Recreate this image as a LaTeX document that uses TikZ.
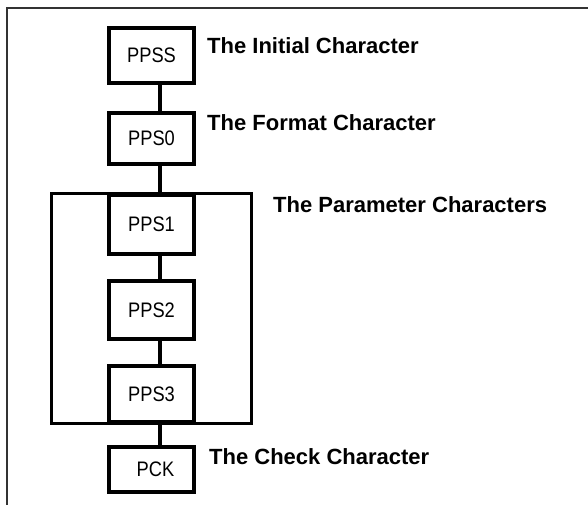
\documentclass[tikz,border=0pt]{standalone}
\usepackage{fontspec}
\setmainfont{Liberation Sans}
\newfontfamily\boxfont[FakeStretch=0.87]{Liberation Sans}
\usetikzlibrary{fit}

\begin{document}
\begin{tikzpicture}[x=1pt,y=-1pt,
  char node/.style={rectangle,draw,line width=3.4pt,minimum width=85pt,inner sep=0pt,
    font=\boxfont\fontsize{21}{25}\selectfont},
  label node/.style={anchor=west,inner sep=0pt,font=\bfseries\fontsize{22}{26}\selectfont},
  group node/.style={rectangle,draw,line width=3.2pt,inner ysep=0pt,inner xsep=55.5pt},
  link/.style={line width=3.8pt}]

  \useasboundingbox (0,0) rectangle (588,505);
  \draw[line width=2pt,black!80] (588,8) -| (7,505);

  \node[char node,minimum height=55pt] (ppss) at (151.5,55.5) {PPSS};
  \node[char node,minimum height=51pt] (pps0) at (151.5,138.5) {PPS0};
  \node[char node,minimum height=59pt] (pps1) at (151.5,224.5) {PPS1};
  \node[char node,minimum height=58pt] (pps2) at (151.5,310) {PPS2};
  \node[char node,minimum height=56pt] (pps3) at (151.5,394) {PPS3};
  \node[char node,minimum height=45pt] (pck) at (151.5,469.5) {\hspace{8pt}PCK};

  \node[group node,fit=(pps1)(pps3)] (params) {};

  \node[label node] (initial) at (207,46) {The Initial Character};
  \node[label node] (format) at (207,123) {The Format Character};
  \node[label node] (parameter) at (273,205) {The Parameter Characters};
  \node[label node] (check) at (209,457) {The Check Character};

  \path[link]
   ([xshift=8.5pt]ppss.south) edge ([xshift=8.5pt]pps0.north)
   ([xshift=8.5pt]pps0.south) edge ([xshift=8.5pt]pps1.north)
   ([xshift=8.5pt]pps1.south) edge ([xshift=8.5pt]pps2.north)
   ([xshift=8.5pt]pps2.south) edge ([xshift=8.5pt]pps3.north)
   ([xshift=8.5pt]pps3.south) edge ([xshift=8.5pt]pck.north);

\end{tikzpicture}
\end{document}
